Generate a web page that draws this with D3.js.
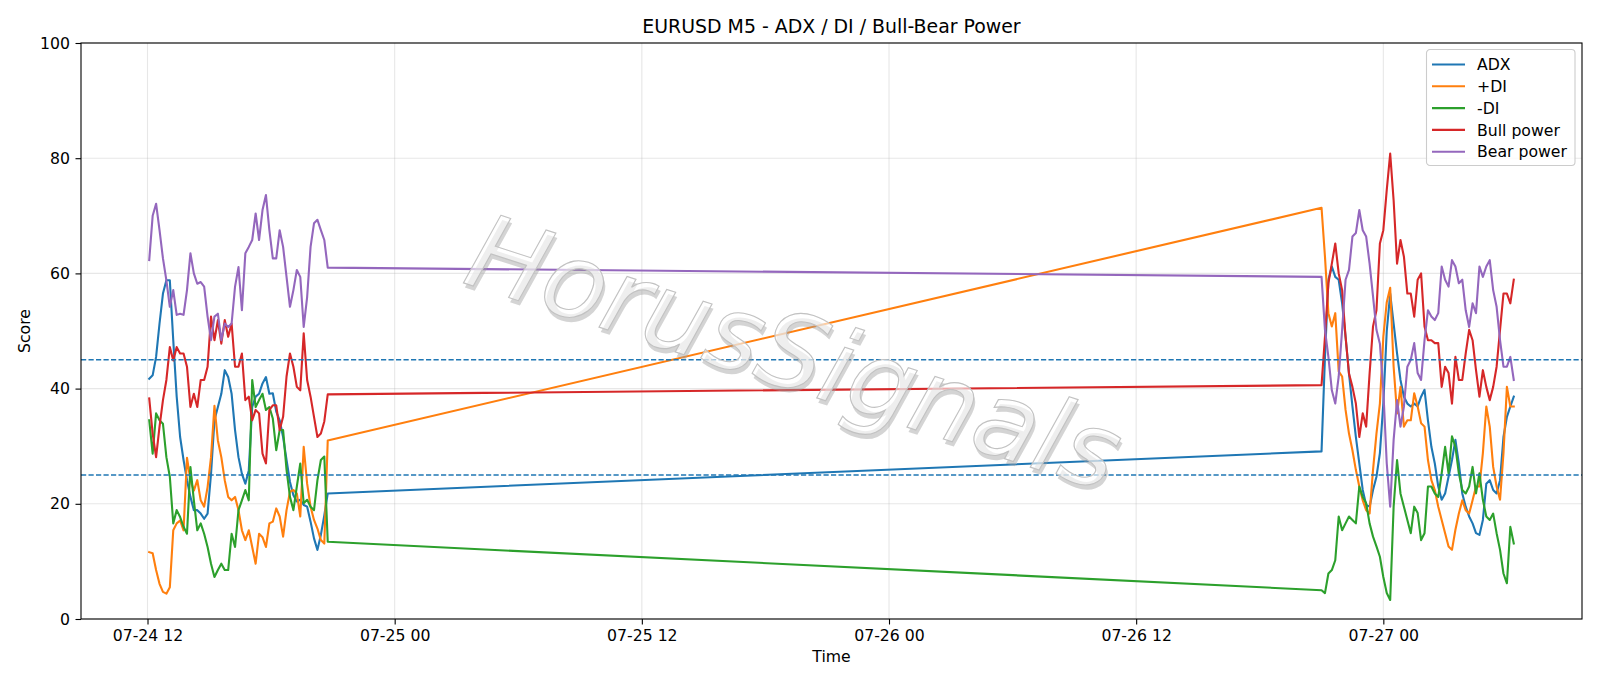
<!DOCTYPE html>
<html>
<head>
<meta charset="utf-8">
<script src="https://cdn.jsdelivr.net/npm/d3@7"></script>
<style>
  html, body { margin: 0; padding: 0; background: #fff; }
  svg { display: block; font-family: "DejaVu Sans", sans-serif; }
</style>
</head>
<body>
<svg id="chart" width="1600" height="686"></svg>
<script>
// ---------------- data ----------------
const seriesNames = ["ADX", "+DI", "-DI", "Bull power", "Bear power"];
const seriesColors = ["#1f77b4", "#ff7f0e", "#2ca02c", "#d62728", "#9467bd"];
const yTicks = [0, 20, 40, 60, 80, 100];
const refLevels = [25, 45];

// sampling: segment 1 from 07-24 12:05, segment 2 from 07-26 21:00, every 10 minutes
const seg1Start = "2025-07-24T12:05:00Z";
const seg2Start = "2025-07-26T21:00:00Z";
const stepMinutes = 10;

const adx1 = [41.7, 42.3, 45.5, 51.3, 56.5, 58.8, 58.8, 48.4, 38.6, 31.6, 27.6, 24.1, 21.2, 18.9, 18.9, 18.3, 17.4, 18.3, 25.2, 34.5, 36.8, 39.1, 43.2, 42.0, 39.1, 32.8, 28.1, 25.2, 23.5, 25.8, 36.8, 38.6, 39.1, 40.9, 42.0, 39.1, 39.2, 36.0, 34.5, 31.6, 27.6, 23.8, 21.5, 20.4, 20.7, 19.8, 19.5, 16.9, 14.0, 12.0, 14.6, 18.0, 21.8];
const pdi1 = [11.6, 11.4, 8.5, 6.1, 4.7, 4.4, 5.5, 15.4, 16.6, 17.1, 15.4, 28.0, 24.1, 22.3, 24.1, 20.6, 19.5, 22.9, 28.1, 37.0, 31.0, 28.1, 24.1, 21.2, 20.6, 21.2, 18.9, 15.4, 13.7, 15.4, 12.5, 9.6, 14.8, 14.2, 12.5, 16.6, 16.9, 19.2, 17.8, 14.3, 18.9, 22.1, 22.4, 21.8, 17.8, 29.9, 23.5, 19.5, 17.2, 15.7, 13.7, 13.1, 31.0];
const mdi1 = [34.5, 28.7, 35.7, 34.5, 33.9, 28.1, 24.7, 16.6, 18.9, 17.7, 16.0, 14.8, 26.4, 20.6, 15.4, 16.6, 14.8, 12.5, 9.6, 7.3, 8.5, 9.6, 8.5, 8.5, 14.8, 12.5, 18.9, 20.6, 22.4, 20.6, 41.5, 36.8, 38.0, 39.1, 36.3, 36.8, 34.8, 29.3, 32.8, 32.8, 25.9, 21.2, 18.9, 23.0, 27.0, 20.1, 20.7, 19.5, 18.9, 24.1, 27.6, 28.2, 13.4];
const bull1 = [38.3, 32.2, 28.1, 33.4, 38.0, 41.5, 47.2, 44.9, 47.2, 46.1, 46.1, 43.8, 36.8, 39.1, 36.8, 41.5, 41.5, 43.8, 52.5, 48.4, 51.9, 47.8, 51.9, 49.0, 51.3, 43.8, 43.8, 46.1, 38.0, 38.6, 34.5, 36.3, 35.7, 28.7, 27.0, 36.3, 37.1, 37.1, 32.8, 35.1, 42.1, 46.1, 43.8, 40.3, 39.7, 49.6, 41.5, 38.6, 35.1, 31.6, 32.2, 34.3, 39.0];
const bear1 = [62.3, 70.0, 72.1, 67.5, 62.6, 58.8, 54.2, 57.1, 52.8, 53.0, 52.8, 57.1, 63.5, 60.0, 58.2, 58.5, 57.7, 52.5, 48.4, 52.5, 53.0, 48.4, 51.3, 50.7, 51.3, 57.7, 61.1, 53.6, 63.5, 64.6, 65.8, 70.4, 65.8, 71.0, 73.6, 67.5, 62.6, 62.6, 67.5, 64.6, 59.4, 54.2, 57.1, 60.6, 59.4, 50.7, 55.9, 64.6, 68.7, 69.3, 67.5, 65.8, 61.0];

const adx2 = [29.1, 45.5, 58.9, 61.2, 59.4, 58.9, 54.8, 49.0, 42.6, 36.9, 31.6, 27.0, 22.4, 19.8, 19.5, 22.4, 24.7, 28.8, 37.4, 50.0, 56.5, 51.3, 46.1, 41.5, 38.6, 37.4, 36.9, 37.4, 36.9, 38.6, 39.8, 34.5, 29.9, 27.0, 23.0, 20.7, 21.8, 24.7, 27.6, 31.1, 27.0, 21.8, 19.5, 17.8, 16.6, 14.9, 14.6, 17.2, 23.5, 24.1, 22.4, 21.8, 24.1, 31.6, 35.1, 36.9, 38.6];
const pdi2 = [71.4, 62.9, 53.1, 50.8, 53.1, 43.0, 42.1, 36.3, 32.2, 29.3, 25.9, 23.0, 20.6, 18.9, 18.3, 25.9, 32.2, 37.4, 49.0, 55.0, 57.5, 43.8, 35.7, 40.3, 33.4, 34.5, 34.5, 39.2, 36.9, 34.0, 33.4, 27.6, 24.1, 22.4, 19.5, 17.2, 14.9, 12.6, 12.0, 15.5, 18.3, 20.6, 18.9, 18.3, 20.6, 23.0, 23.0, 28.8, 36.9, 33.4, 26.4, 23.0, 20.7, 28.8, 40.3, 36.9, 36.9];
const mdi2 = [5.0, 4.5, 7.9, 8.5, 10.2, 17.8, 15.4, 16.6, 17.8, 17.2, 16.6, 23.0, 21.2, 20.1, 16.6, 14.3, 12.6, 10.8, 7.3, 4.5, 3.3, 19.5, 27.6, 21.8, 19.5, 17.2, 14.9, 19.5, 18.4, 13.7, 14.9, 23.0, 23.0, 21.8, 21.2, 25.3, 29.9, 25.3, 31.7, 29.9, 25.3, 22.4, 21.8, 23.0, 26.4, 21.8, 25.3, 20.7, 17.8, 17.2, 18.3, 14.9, 12.0, 7.9, 6.2, 16.0, 13.1];
const bull2 = [40.6, 49.0, 58.3, 61.7, 65.2, 60.0, 57.1, 49.0, 42.6, 40.3, 37.4, 31.6, 35.7, 33.4, 42.6, 50.8, 53.6, 65.2, 67.5, 74.5, 80.8, 72.7, 61.7, 65.8, 62.9, 56.5, 56.5, 52.5, 58.9, 60.0, 50.8, 48.4, 48.4, 47.9, 47.9, 40.3, 43.8, 42.7, 37.4, 45.5, 41.5, 41.5, 46.1, 50.2, 48.4, 43.2, 38.6, 43.2, 40.3, 38.0, 40.3, 43.8, 50.2, 56.5, 56.5, 54.8, 58.9];
const bear2 = [59.4, 50.2, 45.5, 39.7, 37.4, 42.1, 50.2, 58.9, 60.6, 66.4, 67.0, 71.0, 67.5, 66.4, 61.7, 56.0, 50.2, 47.8, 39.7, 27.0, 19.5, 31.1, 38.0, 33.4, 36.9, 43.8, 45.0, 47.9, 42.7, 41.5, 48.4, 53.6, 52.5, 51.9, 53.1, 61.2, 58.9, 57.7, 62.3, 61.2, 58.3, 58.9, 53.6, 50.7, 54.8, 53.1, 61.2, 59.4, 61.2, 62.3, 57.1, 54.2, 48.4, 43.8, 43.8, 45.5, 41.5];

// ---------------- build ----------------
const seg1 = [adx1, pdi1, mdi1, bull1, bear1];
const seg2 = [adx2, pdi2, mdi2, bull2, bear2];
function timesFor(start, n) {
  const t0 = new Date(start).getTime();
  return d3.range(n).map(i => new Date(t0 + i * stepMinutes * 60000));
}
const times1 = timesFor(seg1Start, adx1.length);
const times2 = timesFor(seg2Start, adx2.length);
const allTimes = times1.concat(times2);

const series = seriesNames.map((name, i) => ({
  name, color: seriesColors[i],
  values: seg1[i].concat(seg2[i]).map((v, j) => ({ t: allTimes[j], v }))
}));

const W = 1600, H = 686;
const margin = { left: 81, right: 18, top: 43, bottom: 67 };
const pw = W - margin.left - margin.right;
const ph = H - margin.top - margin.bottom;

const svg = d3.select("#chart");
const g = svg.append("g").attr("transform", `translate(${margin.left},${margin.top})`);

const [tMin, tMax] = d3.extent(allTimes);
const pad = (tMax - tMin) * 0.05;
const x = d3.scaleUtc().domain([new Date(+tMin - pad), new Date(+tMax + pad)]).range([0, pw]);
const y = d3.scaleLinear().domain([0, 100]).range([ph, 0]);

const xTicks = d3.utcHour.every(12).range(x.domain()[0], x.domain()[1]);

// grid
g.append("g").selectAll("line.gx").data(xTicks).join("line")
  .attr("x1", d => x(d)).attr("x2", d => x(d)).attr("y1", 0).attr("y2", ph)
  .attr("stroke", "#b0b0b0").attr("stroke-opacity", 0.3).attr("stroke-width", 1.1);
g.append("g").selectAll("line.gy").data(yTicks).join("line")
  .attr("x1", 0).attr("x2", pw).attr("y1", d => y(d)).attr("y2", d => y(d))
  .attr("stroke", "#b0b0b0").attr("stroke-opacity", 0.3).attr("stroke-width", 1.1);

// series
const line = d3.line().x(d => x(d.t)).y(d => y(d.v));
svg.append("defs").append("clipPath").attr("id", "clip")
  .append("rect").attr("width", pw).attr("height", ph);
const lines = g.append("g").attr("clip-path", "url(#clip)");
series.forEach(s => {
  lines.append("path").datum(s.values)
    .attr("d", line).attr("fill", "none")
    .attr("stroke", s.color).attr("stroke-width", 2.1)
    .attr("stroke-linejoin", "round").attr("stroke-linecap", "square");
});

// reference lines
g.append("g").selectAll("line.ref").data(refLevels).join("line")
  .attr("x1", 0).attr("x2", pw).attr("y1", d => y(d)).attr("y2", d => y(d))
  .attr("stroke", "#1f77b4").attr("stroke-width", 1.4)
  .attr("stroke-dasharray", "5.2,2.3");

// watermark
const wm = g.append("g")
  .attr("transform", `translate(${792 - margin.left},${360 - margin.top}) rotate(18)`);
wm.append("text").attr("x", 3).attr("y", 4)
  .attr("text-anchor", "middle").attr("dominant-baseline", "middle")
  .attr("font-size", 104).attr("font-style", "italic")
  .attr("fill", "#a0a0a0").attr("fill-opacity", 0.45)
  .text("HorusSignals");
wm.append("text")
  .attr("text-anchor", "middle").attr("dominant-baseline", "middle")
  .attr("font-size", 104).attr("font-style", "italic")
  .attr("fill", "#ffffff").attr("fill-opacity", 0.6)
  .attr("stroke", "#c2c2c2").attr("stroke-width", 1.1)
  .text("HorusSignals");

// axes
const fs = 15.7;
const xAxis = g.append("g").attr("transform", `translate(0,${ph})`)
  .call(d3.axisBottom(x).tickValues(xTicks).tickFormat(d3.utcFormat("%m-%d %H"))
    .tickSize(5.5).tickPadding(5.5).tickSizeOuter(0));
const yAxis = g.append("g")
  .call(d3.axisLeft(y).tickValues(yTicks).tickSize(5.5).tickPadding(5.5).tickSizeOuter(0));
[xAxis, yAxis].forEach(a => {
  a.select(".domain").remove();
  a.selectAll("text").attr("font-size", fs).attr("fill", "#000")
    .attr("font-family", "DejaVu Sans");
  a.selectAll("line").attr("stroke", "#000").attr("stroke-width", 1.1);
});

// frame
g.append("rect").attr("width", pw).attr("height", ph)
  .attr("fill", "none").attr("stroke", "#000").attr("stroke-width", 1.1);

// labels
svg.append("text").attr("x", margin.left + pw / 2).attr("y", 33)
  .attr("text-anchor", "middle").attr("font-size", 18.9)
  .text("EURUSD M5 - ADX / DI / Bull-Bear Power");
svg.append("text").attr("x", margin.left + pw / 2).attr("y", 662)
  .attr("text-anchor", "middle").attr("font-size", fs).text("Time");
svg.append("text")
  .attr("transform", `translate(30,${margin.top + ph / 2}) rotate(-90)`)
  .attr("text-anchor", "middle").attr("font-size", fs).text("Score");

// legend
const lg = svg.append("g").attr("transform", "translate(1426.5,49.5)");
lg.append("rect").attr("width", 148.5).attr("height", 116).attr("rx", 3.5)
  .attr("fill", "#fff").attr("fill-opacity", 0.8)
  .attr("stroke", "#cccccc").attr("stroke-width", 1.1);
series.forEach((s, i) => {
  const cy = 15 + i * 21.8;
  lg.append("line").attr("x1", 5.5).attr("x2", 38.5).attr("y1", cy).attr("y2", cy)
    .attr("stroke", s.color).attr("stroke-width", 2.1);
  lg.append("text").attr("x", 50.5).attr("y", cy).attr("dy", "0.36em")
    .attr("font-size", fs).text(s.name);
});
</script>
</body>
</html>
